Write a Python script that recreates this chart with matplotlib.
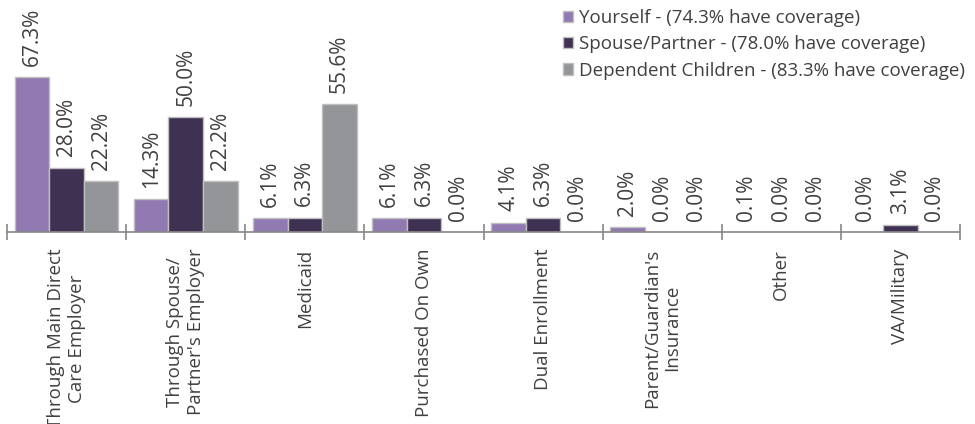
import matplotlib
matplotlib.use("Agg")
import matplotlib.pyplot as plt
import numpy as np

categories = [
    "Through Main Direct\nCare Employer",
    "Through Spouse/\nPartner's Employer",
    "Medicaid",
    "Purchased On Own",
    "Dual Enrollment",
    "Parent/Guardian's\nInsurance",
    "Other",
    "VA/Military",
]
series_names = [
    "Yourself - (74.3% have coverage)",
    "Spouse/Partner - (78.0% have coverage)",
    "Dependent Children - (83.3% have coverage)",
]
yourself = [67.3, 14.3, 6.1, 6.1, 4.1, 2.0, 0.1, 0.0]
spouse = [28.0, 50.0, 6.3, 6.3, 6.3, 0.0, 0.0, 3.1]
children = [22.2, 22.2, 55.6, 0.0, 0.0, 0.0, 0.0, 0.0]
colors = ["#9179B1", "#3F3152", "#939598"]

plt.rcParams["font.family"] = ["Open Sans", "DejaVu Sans"]

fig = plt.figure(figsize=(9.75, 4.24), dpi=100)
ax = fig.add_axes([7 / 975, 192 / 424, 953 / 975, 230 / 424])

x = np.arange(len(categories)) + 0.5
w = 0.29
for i, (vals, col, name) in enumerate(zip([yourself, spouse, children], colors, series_names)):
    pos = x + (i - 1) * w
    ax.bar(pos, vals, width=w, color=col, edgecolor="#BFBFBF",
           linewidth=1.0, label=name)
    for xp, v in zip(pos, vals):
        ax.annotate(f"{v:.1f}%", (xp, v), xytext=(0, 8), textcoords="offset points",
                    rotation=90, ha="center", va="bottom", fontsize=15,
                    color="#404040")

ax.set_xlim(0, len(categories))
ax.set_ylim(0, 100)
ax.set_yticks([])
for s in ["top", "right", "left"]:
    ax.spines[s].set_visible(False)
ax.spines["bottom"].set_color("#868686")
ax.spines["bottom"].set_linewidth(1.2)

ax.set_xticks(np.arange(len(categories) + 1))
ax.set_xticklabels([])
ax.tick_params(axis="x", which="major", direction="inout", length=12,
               width=1.2, color="#868686")
ax.set_xticks(x, minor=True)
ax.set_xticklabels(categories, minor=True, rotation=90, ha="center", va="top",
                   multialignment="center", fontsize=13.5, color="#404040")
ax.tick_params(axis="x", which="minor", length=0, pad=12)

leg = ax.legend(loc="upper right", bbox_to_anchor=(1.013, 1.003), frameon=False,
                fontsize=13.5, handlelength=0.55, handleheight=0.55,
                handletextpad=0.3, labelspacing=0.45, labelcolor="#404040",
                borderaxespad=0)

fig.savefig("out.png", dpi=100)
